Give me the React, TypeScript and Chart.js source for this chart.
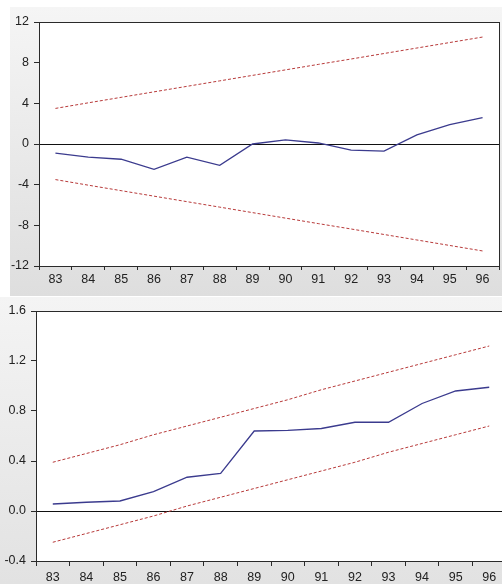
import React, { useEffect, useRef } from "react";
import { Chart, registerables } from "chart.js";

Chart.register(...registerables);

const categories = ["83", "84", "85", "86", "87", "88", "89", "90", "91", "92", "93", "94", "95", "96"];

const cusum = [-0.9, -1.3, -1.5, -2.5, -1.3, -2.1, 0.0, 0.4, 0.1, -0.6, -0.7, 0.9, 1.9, 2.6];
const cusumUpper = [3.5, 4.05, 4.59, 5.13, 5.67, 6.21, 6.75, 7.29, 7.83, 8.36, 8.9, 9.44, 9.98, 10.52];
const cusumLower = [-3.5, -4.05, -4.59, -5.13, -5.67, -6.21, -6.75, -7.29, -7.83, -8.36, -8.9, -9.44, -9.98, -10.52];

const cusumSq = [0.056, 0.07, 0.08, 0.155, 0.27, 0.3, 0.64, 0.645, 0.66, 0.71, 0.71, 0.86, 0.96, 0.99];
const sqUpper = [0.39, 0.46, 0.53, 0.61, 0.68, 0.75, 0.82, 0.89, 0.97, 1.04, 1.11, 1.18, 1.25, 1.32];
const sqLower = [-0.25, -0.18, -0.11, -0.04, 0.04, 0.11, 0.18, 0.25, 0.32, 0.39, 0.47, 0.54, 0.61, 0.68];

const topTicks = { min: -12, max: 12, step: 4 };
const bottomTicks = { min: -0.4, max: 1.6, step: 0.4 };

const FONT = "'Liberation Sans', Arial, sans-serif";
const BLUE = "#3b3b8e";
const RED = "#b83a3a";

const frame = {
  id: "frame",
  beforeDraw(chart: any) {
    const { ctx, chartArea } = chart;
    ctx.save();
    ctx.fillStyle = "#ffffff";
    ctx.fillRect(chartArea.left, chartArea.top, chartArea.right - chartArea.left, chartArea.bottom - chartArea.top);
    ctx.restore();
  },
  afterDraw(chart: any) {
    const { ctx, chartArea } = chart;
    ctx.save();
    ctx.strokeStyle = "#2a2a2a";
    ctx.lineWidth = 1;
    ctx.strokeRect(
      Math.round(chartArea.left) + 0.5,
      Math.round(chartArea.top) + 0.5,
      Math.round(chartArea.right - chartArea.left),
      Math.round(chartArea.bottom - chartArea.top)
    );
    ctx.restore();
  },
};

type Cfg = {
  main: number[];
  upper: number[];
  lower: number[];
  ticks: { min: number; max: number; step: number };
  decimals: number;
  yWidth: number;
  xHeight: number;
  padTop: number;
  padRight: number;
  xTickLen: number;
  xPad: number;
};

function makeChart(canvas: HTMLCanvasElement, c: Cfg) {
  const line = (data: number[], color: string, dash: number[], width: number) => ({
    data,
    borderColor: color,
    borderWidth: width,
    borderDash: dash,
    pointRadius: 0,
    fill: false,
    tension: 0,
  });
  return new Chart(canvas, {
    type: "line",
    data: {
      labels: categories,
      datasets: [
        line(c.upper, RED, [3, 2], 1),
        line(c.lower, RED, [3, 2], 1),
        line(c.main, BLUE, [], 1.3),
      ],
    },
    options: {
      animation: false,
      responsive: false,
      maintainAspectRatio: false,
      layout: { padding: { top: c.padTop, right: c.padRight, left: 0, bottom: 0 } },
      plugins: { legend: { display: false }, tooltip: { enabled: false } },
      scales: {
        x: {
          type: "category",
          offset: true,
          grid: {
            offset: true,
            drawOnChartArea: false,
            drawTicks: true,
            tickLength: c.xTickLen,
            tickColor: "#2a2a2a",
          },
          border: { display: false },
          ticks: {
            color: "#222",
            font: { family: FONT, size: 12.5 },
            padding: c.xPad,
            maxRotation: 0,
            autoSkip: false,
          },
          afterFit(scale: any) {
            scale.height = c.xHeight;
          },
        },
        y: {
          min: c.ticks.min,
          max: c.ticks.max,
          grid: {
            drawTicks: true,
            tickLength: 5,
            tickColor: "#2a2a2a",
            lineWidth: 1,
            color: (ctx: any) =>
              ctx.tick && Math.abs(ctx.tick.value) < 1e-9 ? "#111" : "rgba(0,0,0,0)",
          },
          border: { display: false },
          ticks: {
            stepSize: c.ticks.step,
            color: "#222",
            font: { family: FONT, size: 12.5 },
            padding: 5,
            callback: (v: any) => Number(v).toFixed(c.decimals),
          },
          afterFit(scale: any) {
            scale.width = c.yWidth;
          },
        },
      },
    },
    plugins: [frame],
  } as any);
}

export default function App() {
  const topRef = useRef<HTMLCanvasElement>(null);
  const botRef = useRef<HTMLCanvasElement>(null);

  useEffect(() => {
    const a = makeChart(topRef.current!, {
      main: cusum,
      upper: cusumUpper,
      lower: cusumLower,
      ticks: topTicks,
      decimals: 0,
      yWidth: 29,
      xHeight: 30,
      padTop: 15,
      padRight: 3,
      xTickLen: 4,
      xPad: 2,
    });
    const b = makeChart(botRef.current!, {
      main: cusumSq,
      upper: sqUpper,
      lower: sqLower,
      ticks: bottomTicks,
      decimals: 1,
      yWidth: 36,
      xHeight: 23,
      padTop: 14,
      padRight: 2,
      xTickLen: 5,
      xPad: 4,
    });
    return () => {
      a.destroy();
      b.destroy();
    };
  }, []);

  return (
    <div
      style={{
        position: "absolute",
        left: 0,
        top: 0,
        width: 502,
        height: 584,
        background: "#fff",
        overflow: "hidden",
      }}
    >
      <div
        style={{
          position: "absolute",
          left: 10,
          top: 7,
          width: 492,
          height: 289,
          background: "linear-gradient(#f5f5f5, #dedede)",
        }}
      >
        <canvas ref={topRef} width={492} height={289} style={{ display: "block", width: 492, height: 289 }} />
      </div>
      <div
        style={{
          position: "absolute",
          left: 0,
          top: 297,
          width: 502,
          height: 287,
          overflow: "hidden",
          background: "linear-gradient(#f4f4f4, #e2e2e2)",
        }}
      >
        <canvas ref={botRef} width={508} height={287} style={{ display: "block", width: 508, height: 287 }} />
      </div>
    </div>
  );
}
